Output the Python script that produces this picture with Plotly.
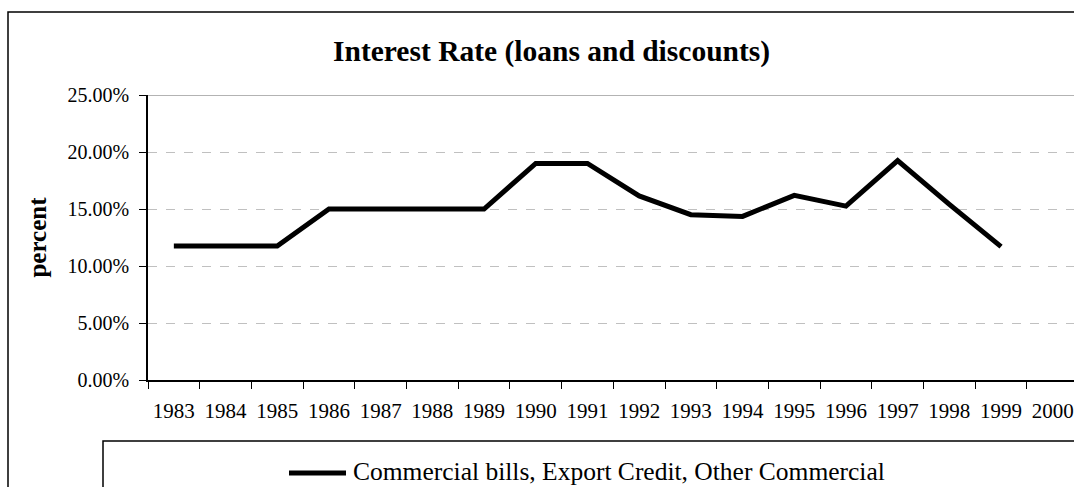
import plotly.graph_objects as go

# Annual interest rate on loans and discounts (percent)
years = [str(y) for y in range(1983, 2001)]
rates = [11.75, 11.75, 11.75, 15.0, 15.0, 15.0, 15.0, 19.0, 19.0,
         16.15, 14.5, 14.35, 16.2, 15.25, 19.25, 15.4, 11.7, None]
series_name = "Commercial bills, Export Credit, Other Commercial"
title_text = "Interest Rate (loans and discounts)"
y_title = "percent"
y_ticks = [0, 5, 10, 15, 20, 25]
y_ticklabels = [f"{v:.2f}%" for v in y_ticks]

FONT = "Liberation Serif, Times New Roman, serif"

fig = go.Figure()
fig.add_trace(go.Scatter(
    x=years, y=rates, mode="lines", name=series_name,
    line=dict(color="black", width=5), connectgaps=False,
    showlegend=False,
))

W, H = 1074, 487
L, T, B = 148, 95, 107
plot_w = W - L
plot_h = H - T - B
cat_px = 51.7
x_max = -0.5 + plot_w / cat_px


def px_x(px):
    return (px - L) / plot_w


def px_y(py):
    return (H - B - py) / plot_h


shapes = [
    # outer chart frame
    dict(type="rect", xref="paper", yref="paper",
         x0=px_x(8), x1=px_x(1200), y0=px_y(600), y1=px_y(12),
         line=dict(color="black", width=1.5), layer="below"),
    # top gridline at 25% drawn solid
    dict(type="line", xref="paper", yref="y", x0=0, x1=1, y0=25, y1=25,
         line=dict(color="#9a9a9a", width=1.5)),
    # legend frame
    dict(type="rect", xref="paper", yref="paper",
         x0=px_x(103), x1=px_x(1200), y0=px_y(600), y1=px_y(441),
         line=dict(color="black", width=1.5)),
    # legend line sample
    dict(type="line", xref="paper", yref="paper",
         x0=px_x(289), x1=px_x(346), y0=px_y(473), y1=px_y(473),
         line=dict(color="black", width=5)),
]

annotations = [
    dict(text=f"<b>{title_text}</b>", xref="paper", yref="paper",
         x=px_x(551), y=px_y(52), showarrow=False, xanchor="center", yanchor="middle",
         font=dict(family=FONT, size=29.5, color="black")),
    dict(text=series_name, xref="paper", yref="paper",
         x=px_x(351), y=px_y(471), showarrow=False, xanchor="left", yanchor="middle",
         font=dict(family=FONT, size=25.5, color="black")),
]

fig.update_layout(
    width=W, height=H,
    margin=dict(l=L, r=0, t=T, b=B),
    paper_bgcolor="white", plot_bgcolor="white",
    font=dict(family=FONT, size=20, color="black"),
    shapes=shapes, annotations=annotations,
    showlegend=False,
)

fig.update_xaxes(
    type="category", range=[-0.5, x_max],
    tickson="boundaries", ticks="outside", ticklen=7, tickcolor="black", tickwidth=1,
    showline=True, linecolor="black", linewidth=1.5,
    showgrid=False, zeroline=False, ticklabelstandoff=11,
    tickfont=dict(family=FONT, size=21, color="black"),
)
fig.update_yaxes(
    range=[0, 25], tickvals=y_ticks, ticktext=y_ticklabels,
    ticks="outside", ticklen=7, tickcolor="black", tickwidth=1,
    showline=True, linecolor="black", linewidth=1.5,
    showgrid=True, gridcolor="#c0c0c0", griddash="dash", gridwidth=1,
    zeroline=False, ticklabelstandoff=6,
    title=dict(text=f"<b>{y_title}</b>", font=dict(family=FONT, size=25, color="black"), standoff=14),
    tickfont=dict(family=FONT, size=20, color="black"),
)

fig.write_html("out.html")
